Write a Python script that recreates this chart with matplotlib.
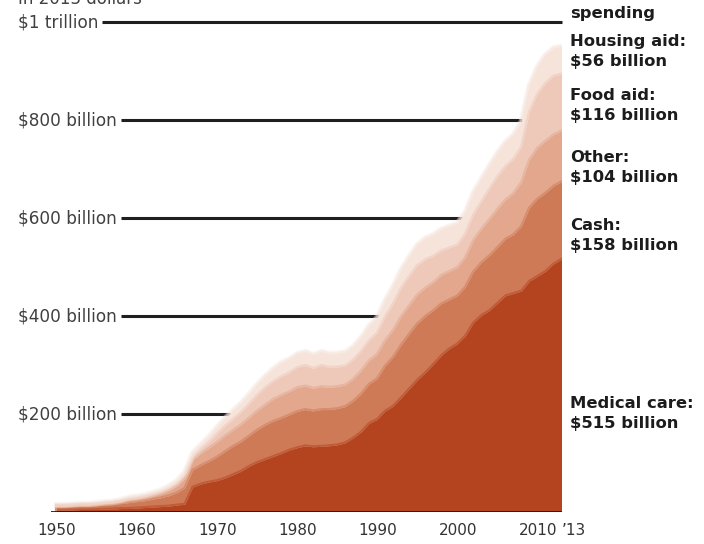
import numpy as np
import matplotlib
matplotlib.use('Agg')
import matplotlib.pyplot as plt
from matplotlib.transforms import blended_transform_factory

# Federal safety-net spending by program, billions of 2013 dollars
years = np.arange(1950, 2014)

medical = [3, 3, 3, 4, 4, 4, 5, 5, 6, 6, 7, 8, 9, 10, 11, 13,
           15, 50, 56, 60, 63, 68, 75, 82, 92, 100, 106, 112, 118, 125,
           130, 134, 132, 133, 134, 136, 140, 150, 162, 180, 188, 205, 215, 232,
           250, 268, 283, 300, 318, 332, 342, 358, 385, 400, 410, 425, 440, 445,
           450, 470, 480, 490, 505, 515]
cash = [6, 6, 7, 7, 7, 8, 8, 9, 10, 12, 13, 14, 16, 18, 21, 25,
        33, 35, 38, 42, 48, 54, 58, 60, 62, 66, 70, 72, 72, 72,
        74, 74, 73, 75, 74, 74, 74, 75, 78, 80, 83, 92, 100, 108,
        112, 115, 115, 110, 106, 100, 98, 100, 104, 108, 112, 114, 116, 120,
        132, 150, 158, 160, 159, 158]
other = [3, 3, 3, 3, 3, 3, 4, 4, 5, 6, 6, 7, 8, 9, 11, 14,
         20, 20, 24, 27, 30, 32, 33, 35, 37, 39, 41, 45, 47, 47,
         49, 48, 46, 47, 45, 45, 44, 45, 47, 48, 50, 52, 55, 58,
         58, 59, 58, 57, 58, 58, 58, 60, 64, 68, 74, 78, 80, 84,
         90, 98, 104, 106, 105, 104]
food = [1, 1, 1, 1, 1, 1, 1, 1, 1, 2, 2, 2, 2, 3, 4, 5,
        6, 7, 9, 12, 17, 20, 22, 25, 28, 32, 35, 36, 38, 39,
        41, 42, 41, 43, 41, 40, 39, 39, 40, 41, 43, 48, 54, 58,
        60, 60, 58, 54, 50, 48, 46, 48, 52, 56, 62, 66, 68, 70,
        72, 98, 110, 118, 120, 116]
housing = [1, 1, 1, 1, 1, 2, 2, 2, 2, 3, 3, 3, 4, 4, 5, 6,
           7, 8, 10, 12, 14, 16, 18, 19, 20, 22, 24, 26, 28, 28,
           28, 28, 28, 28, 28, 28, 28, 28, 28, 30, 32, 34, 36, 38,
           40, 42, 44, 44, 44, 44, 44, 45, 46, 47, 48, 49, 50, 50,
           52, 54, 56, 58, 57, 56]

layers = [medical, cash, other, food, housing]
layer_names = ['Medical care', 'Cash', 'Other', 'Food aid', 'Housing aid']
layer_colors = ['#b4441f', '#cf7a56', '#e2a78c', '#eec9b9', '#f6e3da']

grid_levels = [200, 400, 600, 800, 1000]
grid_labels = [r'\$200 billion', r'\$400 billion', r'\$600 billion',
               r'\$800 billion', r'\$1 trillion']

tick_years = [1950, 1960, 1970, 1980, 1990, 2000, 2010, 2013]
tick_labels = ['1950', '1960', '1970', '1980', '1990', '2000', '2010', '\u201913']

FONT = 'DejaVu Sans'
W, H = 704, 544
fig = plt.figure(figsize=(W / 100, H / 100), dpi=100)
fig.patch.set_facecolor('white')
ax = fig.add_axes([51 / W, (H - 512) / H, 511 / W, 490 / H])

ax.stackplot(years, layers, colors=layer_colors, linewidth=0, zorder=2)

# soften the layer boundaries a little
tops = np.cumsum(layers, axis=0)
for k, top in enumerate(tops):
    ax.plot(years, top, color=layer_colors[k], lw=3, alpha=0.55, zorder=2.1,
            solid_joinstyle='round')
ax.plot(years, tops[-1], color='#f8ebe4', lw=5, alpha=0.45, zorder=1.9)

ax.set_xlim(1949.25, 2013)
ax.set_ylim(0, 1000)

for s in ax.spines.values():
    s.set_visible(False)
ax.set_yticks([])
ax.set_xticks(tick_years)
ax.set_xticklabels(tick_labels, fontsize=11, color='#333333', family=FONT)
ax.tick_params(axis='x', length=0, pad=8)
ax.get_xticklabels()[-1].set_ha('left')
ax.axhline(0, color='#1a1a1a', lw=2, zorder=3)

# dollar labels on the left, rules run out until they hit the stack
trans = blended_transform_factory(fig.transFigure, ax.transData)
label_texts = []
for level, text in zip(grid_levels, grid_labels):
    t = fig.text(18 / W, level, text, transform=trans, ha='left', va='center',
                 fontsize=12.2, color='#404040', family=FONT)
    label_texts.append(t)

fig.canvas.draw()
renderer = fig.canvas.get_renderer()
total = tops[-1]
for level, t in zip(grid_levels, label_texts):
    bb = t.get_window_extent(renderer)
    x_start = ax.transData.inverted().transform((bb.x1 + 4, 0))[0]
    above = np.nonzero(total >= level)[0]
    if len(above):
        i = above[0]
        x_end = np.interp(level, [total[i - 1], total[i]], [years[i - 1], years[i]])
    else:
        x_end = years[-1]
    ax.plot([x_start, x_end], [level, level], color='#1f1f1f', lw=2.2,
            clip_on=False, zorder=1, solid_capstyle='butt')

# program labels beside the 2013 column
right_labels = [
    ('Housing aid:', housing[-1], 34),
    ('Food aid:', food[-1], 88),
    ('Other:', other[-1], 150),
    ('Cash:', cash[-1], 218),
    ('Medical care:', medical[-1], 396),
]
for name, val, ypx in right_labels:
    fig.text(570 / W, 1 - ypx / H, f'{name}\n\\${val} billion', ha='left',
             va='top', fontsize=11.8, fontweight='bold', color='#1c1c1c',
             family=FONT, linespacing=1.4)

fig.text(570 / W, 1 - 6 / H, 'spending', ha='left', va='top', fontsize=11.8,
         fontweight='bold', color='#1c1c1c', family=FONT)
fig.text(18 / W, 1 - 4 / H, 'In 2013 dollars', ha='left', va='baseline',
         fontsize=12, color='#404040', family=FONT)

fig.savefig('out.png', dpi=100)
